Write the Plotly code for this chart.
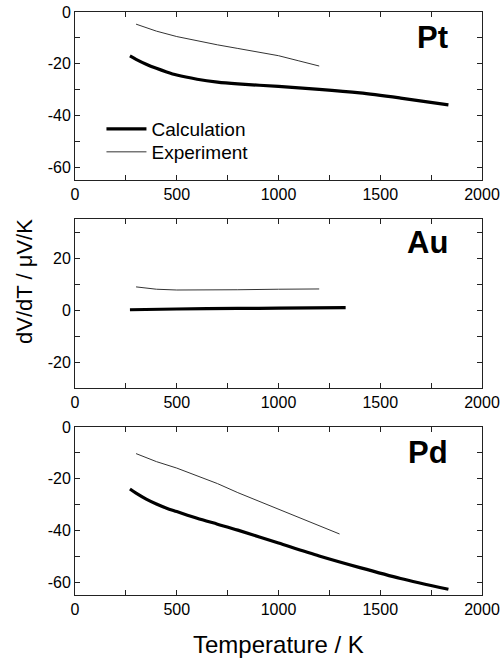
import plotly.graph_objects as go
from plotly.subplots import make_subplots

# ---- data ----
pt_calc_T = [270, 300, 350, 400, 450, 500, 600, 700, 800, 1000, 1200, 1400, 1600, 1835]
pt_calc_V = [-17.0, -18.3, -20.2, -21.8, -23.2, -24.4, -26.0, -27.1, -27.8, -28.8, -29.9, -31.3, -33.3, -35.9]
pt_exp_T = [300, 400, 500, 600, 700, 800, 900, 1000, 1100, 1200]
pt_exp_V = [-4.7, -7.4, -9.5, -11.2, -12.7, -14.1, -15.5, -16.9, -18.9, -20.9]

au_calc_T = [270, 500, 800, 1000, 1330]
au_calc_V = [0.1, 0.4, 0.6, 0.7, 0.9]
au_exp_T = [300, 350, 400, 500, 600, 800, 1000, 1200]
au_exp_V = [8.9, 8.5, 8.0, 7.7, 7.7, 7.8, 8.0, 8.1]

pd_calc_T = [270, 300, 350, 400, 450, 500, 600, 700, 800, 1000, 1200, 1400, 1600, 1835]
pd_calc_V = [-24.0, -25.6, -27.9, -29.8, -31.4, -32.7, -35.3, -37.6, -39.9, -44.9, -49.9, -54.4, -58.6, -62.8]
pd_exp_T = [300, 400, 500, 600, 700, 800, 900, 1000, 1100, 1200, 1300]
pd_exp_V = [-10.3, -13.4, -15.9, -18.8, -21.9, -25.4, -28.6, -31.5, -34.9, -38.0, -41.4]

labels = ["Pt", "Au", "Pd"]
y_ranges = [[-65, 0], [-30, 35], [-65, 0]]
label_y = [-10, 26, -9.7]
x_ticks = [0, 500, 1000, 1500, 2000]
x_ticktext = ["0", "500", "1000", "1500", "2000"]
y_ticks = [-60, -40, -20, 0, 20]
y_ticktext = ["-60", "-40", "-20", "0", "20"]

FONT = "Liberation Sans, Arial, sans-serif"

fig = make_subplots(rows=3, cols=1, vertical_spacing=0.0)
domains = [[0.7118, 1.0], [0.355, 0.6449], [0.0, 0.2882]]

series = [
    (pt_calc_T, pt_calc_V, pt_exp_T, pt_exp_V),
    (au_calc_T, au_calc_V, au_exp_T, au_exp_V),
    (pd_calc_T, pd_calc_V, pd_exp_T, pd_exp_V),
]

for i, (cT, cV, eT, eV) in enumerate(series):
    r = i + 1
    fig.add_trace(go.Scatter(x=cT, y=cV, mode="lines", name="Calculation", legend="legend",
                             line=dict(color="black", width=3.2, shape="spline", smoothing=0.8),
                             showlegend=(i == 0)), row=r, col=1)
    fig.add_trace(go.Scatter(x=eT, y=eV, mode="lines", name="Experiment", legend="legend2",
                             line=dict(color="#333333", width=1),
                             showlegend=(i == 0)), row=r, col=1)

axis_common = dict(
    showline=True, linecolor="#222222", linewidth=1, mirror="allticks",
    ticks="inside", ticklen=5, tickcolor="#222222", showgrid=False, zeroline=False,
    tickfont=dict(family=FONT, size=16, color="black"),
)

for i in range(3):
    xa = "xaxis" if i == 0 else f"xaxis{i+1}"
    ya = "yaxis" if i == 0 else f"yaxis{i+1}"
    fig.layout[xa].update(range=[0, 2000], tickvals=x_ticks, ticktext=x_ticktext,
                          minor=dict(dtick=250, tick0=0, ticks="inside", ticklen=5, tickcolor="#222222", showgrid=False),
                          **axis_common)
    fig.layout[ya].update(range=y_ranges[i], domain=domains[i], tickvals=y_ticks, ticktext=y_ticktext,
                          minor=dict(dtick=10, tick0=0, ticks="inside", ticklen=5, tickcolor="#222222", showgrid=False),
                          **axis_common)
    fig.add_annotation(x=0.921, xref=("x domain" if i == 0 else f"x{i+1} domain"),
                       y=label_y[i], yref=("y" if i == 0 else f"y{i+1}"),
                       text=f"<b>{labels[i]}</b>", showarrow=False, xanchor="right", yanchor="middle",
                       font=dict(family=FONT, size=31, color="black"))

fig.add_annotation(x=0.5, xref="paper", y=-0.059, yref="paper", text="Temperature / K",
                   showarrow=False, xanchor="center", yanchor="top",
                   font=dict(family=FONT, size=24, color="black"))
fig.add_annotation(x=-0.123, xref="paper", y=0.5386, yref="paper", text="dV/dT / \u03bcV/K",
                   showarrow=False, textangle=-90, xanchor="center", yanchor="middle",
                   font=dict(family=FONT, size=22, color="black"))

legend_style = dict(xanchor="left", yanchor="middle", bgcolor="rgba(0,0,0,0)",
                    font=dict(family=FONT, size=19, color="black"), itemwidth=40)

fig.update_layout(
    width=504, height=664,
    margin=dict(l=75, r=22, t=12, b=69, autoexpand=False),
    paper_bgcolor="white", plot_bgcolor="white",
    showlegend=True,
    legend=dict(x=0.065, y=0.7993, **legend_style),
    legend2=dict(x=0.065, y=0.7599, **legend_style),
)

fig.write_html("out.html", config={"displayModeBar": False},
               post_script="document.body.style.margin='0px';document.body.style.overflow='hidden';")
